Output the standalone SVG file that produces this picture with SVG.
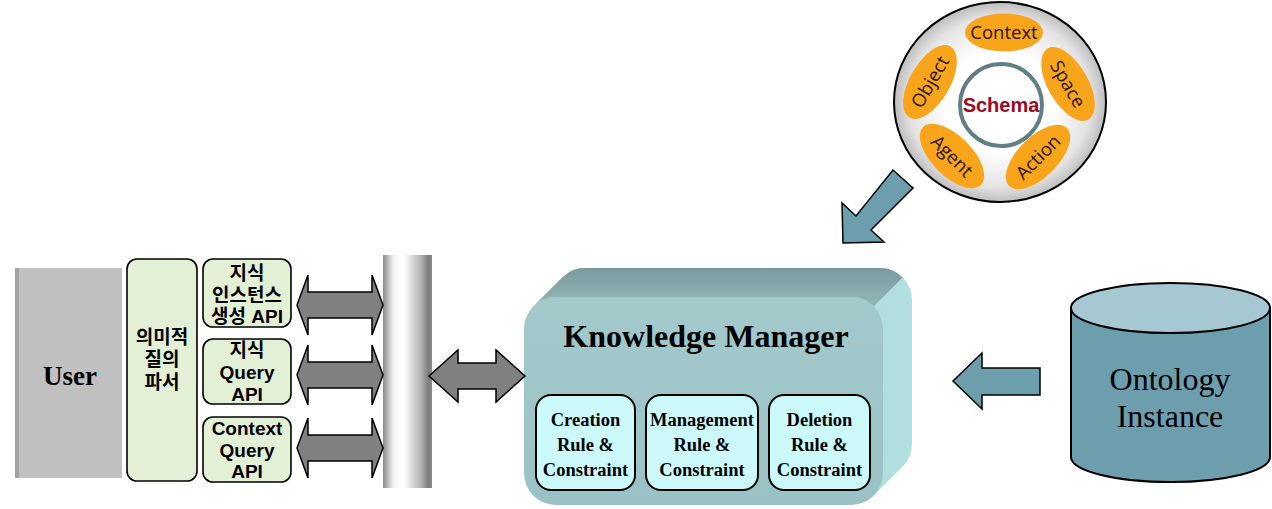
<svg xmlns="http://www.w3.org/2000/svg" width="1272" height="509" viewBox="0 0 1272 509">
<style>
.kr{font-family:"Liberation Sans","Noto Sans CJK KR",sans-serif;font-weight:bold;font-size:19px;fill:#000;text-anchor:middle}
.srb{font-family:"Liberation Serif","Noto Serif",serif;font-weight:bold;fill:#000;text-anchor:middle}
.sr{font-family:"Liberation Serif",serif;fill:#000;text-anchor:middle}
.lg{fill:#E2F0D5;stroke:#000;stroke-width:1.6}
.rule{fill:#CCFAFA;stroke:#000;stroke-width:2}
.dbl{fill:#808080;stroke:#000;stroke-width:1.5;stroke-linejoin:miter}
.blue{fill:#6C9EAE;stroke:#000;stroke-width:1.5;stroke-linejoin:miter}
.orng{fill:#F8A51C}
.ot{font-family:"Open Sans","Noto Sans",sans-serif;font-size:18.5px;fill:#2A1600;text-anchor:middle}
</style>
<defs>
<linearGradient id="bar" x1="0" y1="0" x2="1" y2="0">
<stop offset="0" stop-color="#8A8A8A"/>
<stop offset="0.22" stop-color="#F4F4F4"/>
<stop offset="0.42" stop-color="#FFFFFF"/>
<stop offset="0.75" stop-color="#B8B8B8"/>
<stop offset="0.93" stop-color="#7C7C7C"/>
<stop offset="1" stop-color="#8E8E8E"/>
</linearGradient>
<linearGradient id="topf" x1="0" y1="0" x2="0" y2="1">
<stop offset="0" stop-color="#7A999B"/>
<stop offset="1" stop-color="#93B8BA"/>
</linearGradient>
<linearGradient id="side" x1="0" y1="0" x2="1" y2="0">
<stop offset="0" stop-color="#9CCACB"/>
<stop offset="1" stop-color="#B2E0E0"/>
</linearGradient>
<linearGradient id="front" x1="0" y1="0" x2="0" y2="1">
<stop offset="0" stop-color="#A3C9CB"/>
<stop offset="1" stop-color="#9AC2C4"/>
</linearGradient>
<radialGradient id="ring" cx="0.5" cy="0.5" r="0.5">
<stop offset="0.5" stop-color="#FFFFFF"/>
<stop offset="0.85" stop-color="#E4E4E4"/>
<stop offset="1" stop-color="#BDBDBD"/>
</radialGradient>
</defs>

<g id="user">
<rect x="15" y="268" width="107" height="210" fill="#C0C0C0"/>
<rect x="15" y="268" width="4" height="210" fill="#A2A2A2"/>
<text class="srb" x="70" y="385" font-size="27">User</text>
</g>

<g id="parser">
<rect class="lg" x="127" y="259" width="70" height="222" rx="10"/>
<text class="kr" x="162" y="344">의미적</text>
<text class="kr" x="162" y="366">질의</text>
<text class="kr" x="162" y="389">파서</text>
</g>

<g id="api-instance">
<rect class="lg" x="203" y="259" width="88" height="68" rx="10"/>
<text class="kr" x="247" y="280">지식</text>
<text class="kr" x="247" y="302">인스턴스</text>
<text class="kr" x="247" y="323">생성 API</text>
</g>

<g id="api-query">
<rect class="lg" x="203" y="339" width="88" height="65" rx="10"/>
<text class="kr" x="247" y="357">지식</text>
<text class="kr" x="247" y="379">Query</text>
<text class="kr" x="247" y="401">API</text>
</g>

<g id="api-context">
<rect class="lg" x="203" y="417" width="88" height="65" rx="10"/>
<text class="kr" x="247" y="435">Context</text>
<text class="kr" x="247" y="457">Query</text>
<text class="kr" x="247" y="478">API</text>
</g>

<g id="bus">
<rect x="383" y="255" width="49" height="233" fill="url(#bar)"/>
</g>

<g id="knowledge-manager">
<path d="M533.4,306.4 L562.4,277.4 A32,32 0 0 1 585,268 L880,268 A32,32 0 0 1 912,300 L912,444 A32,32 0 0 1 902.6,466.6 L873.6,495.6 L851,297 Z" fill="url(#side)"/>
<path d="M533.4,306.4 L562.4,277.4 A32,32 0 0 1 585,268 L880,268 A32,32 0 0 1 902.6,277.4 L873.6,306.4 A32,32 0 0 0 851,297 L556,297 A32,32 0 0 0 533.4,306.4 Z" fill="url(#topf)"/>
<rect x="524" y="297" width="359" height="208" rx="32" fill="url(#front)"/>
<text class="srb" x="706" y="347" font-size="32">Knowledge  Manager</text>
</g>

<g id="rule-creation">
<rect class="rule" x="536" y="395" width="99" height="95" rx="15"/>
<text class="srb" x="585.5" y="426" font-size="18.5">Creation</text>
<text class="srb" x="585.5" y="451" font-size="18.5">Rule &amp;</text>
<text class="srb" x="585.5" y="476" font-size="18.5">Constraint</text>
</g>
<g id="rule-management">
<rect class="rule" x="646" y="395" width="112" height="95" rx="15"/>
<text class="srb" x="702" y="426" font-size="18.5">Management</text>
<text class="srb" x="702" y="451" font-size="18.5">Rule &amp;</text>
<text class="srb" x="702" y="476" font-size="18.5">Constraint</text>
</g>
<g id="rule-deletion">
<rect class="rule" x="769" y="395" width="101" height="95" rx="15"/>
<text class="srb" x="819.5" y="426" font-size="18.5">Deletion</text>
<text class="srb" x="819.5" y="451" font-size="18.5">Rule &amp;</text>
<text class="srb" x="819.5" y="476" font-size="18.5">Constraint</text>
</g>

<g id="ontology-instance">
<path d="M1071,308 L1071,457 A99.5,25 0 0 0 1270,457 L1270,308 Z" fill="#6C9EAE" stroke="#000" stroke-width="2"/>
<ellipse cx="1170.5" cy="308" rx="99.5" ry="25" fill="#A6C8D3" stroke="#000" stroke-width="2"/>
<text class="sr" x="1170" y="390" font-size="32">Ontology</text>
<text class="sr" x="1170" y="427" font-size="32">Instance</text>
</g>

<g id="schema">
<ellipse cx="1000" cy="102" rx="106" ry="100" fill="url(#ring)" stroke="#000" stroke-width="2"/>
<ellipse class="orng" cx="1004" cy="32.5" rx="39" ry="19"/>
<text class="ot" x="1004" y="39">Context</text>
<g transform="translate(1068,84) rotate(60)"><ellipse class="orng" rx="41" ry="20"/><text class="ot" y="6.5">Space</text></g>
<g transform="translate(1038,157) rotate(-45)"><ellipse class="orng" rx="41" ry="20"/><text class="ot" y="6.5">Action</text></g>
<g transform="translate(952,156) rotate(45)"><ellipse class="orng" rx="41" ry="20"/><text class="ot" y="6.5">Agent</text></g>
<g transform="translate(930,82) rotate(-60)"><ellipse class="orng" rx="41" ry="20"/><text class="ot" y="6.5">Object</text></g>
<circle cx="1001" cy="105" r="41" fill="#FFFFFF" stroke="#5F7F86" stroke-width="4"/>
<text x="1001" y="112" font-family="Liberation Sans,sans-serif" font-weight="bold" font-size="20" fill="#9B0A1E" text-anchor="middle">Schema</text>
</g>

<g id="connectors">
<polygon class="dbl" points="297,305 308,275 308,292 372,292 372,275 383,305 372,335 372,318 308,318 308,335"/>
<polygon class="dbl" points="297,375 308,345 308,362 372,362 372,345 383,375 372,405 372,388 308,388 308,405"/>
<polygon class="dbl" points="297,448 308,418 308,435 372,435 372,418 383,448 372,478 372,461 308,461 308,478"/>
<polygon class="dbl" points="429,376 458,350 458,363 496,363 496,350 525,376 496,402 496,389 458,389 458,402"/>
<polygon class="blue" points="953,381 982,353 982,368 1040,368 1040,395 982,395 982,409"/>
<polygon class="blue" points="843,243 842,203 856,216 893,170 913,188 871,230 884,242"/>
</g>
</svg>
